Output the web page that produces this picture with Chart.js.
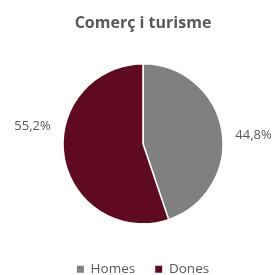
<!DOCTYPE html>
<html>
<head>
<meta charset="utf-8">
<script src="https://cdn.jsdelivr.net/npm/chart.js@4/dist/chart.umd.min.js"></script>
<style>
  html, body { margin: 0; padding: 0; background: #fff; }
  #wrap { width: 277px; height: 275px; }
</style>
</head>
<body>
<div id="wrap"><canvas id="chart"></canvas></div>
<script>
const chartTitle = 'Comerç i turisme';
const categories = ['Homes', 'Dones'];
const values = [44.8, 55.2];
const colors = ['#808080', '#600a22'];

// etiquetes de percentatge fora del pastís, a banda i banda
const outsideLabels = {
    id: 'outsideLabels',
    afterDatasetsDraw(chart) {
        const ctx = chart.ctx;
        const meta = chart.getDatasetMeta(0);
        ctx.save();
        ctx.font = '13px "Open Sans"';
        ctx.fillStyle = '#595959';
        ctx.textAlign = 'center';
        ctx.textBaseline = 'middle';
        meta.data.forEach((arc, i) => {
            const p = arc.getProps(['x', 'y', 'startAngle', 'endAngle', 'outerRadius'], true);
            const mid = (p.startAngle + p.endAngle) / 2;
            const r = p.outerRadius + 32;
            const txt = values[i].toFixed(1).replace('.', ',') + '%';
            ctx.fillText(txt, p.x + Math.cos(mid) * r, p.y - 13 + Math.cos(mid) * 4.5);
        });
        ctx.restore();
    }
};

new Chart(document.getElementById('chart'), {
    type: 'pie',
    data: {
        labels: categories,
        datasets: [{
            data: values,
            backgroundColor: colors,
            borderColor: '#fff',
            borderWidth: 1.5,
            radius: 80
        }]
    },
    options: {
        responsive: true,
        maintainAspectRatio: false,
        animation: false,
        layout: { padding: { left: 9, right: 0, bottom: -11 } },
        plugins: {
            title: {
                display: true,
                text: chartTitle,
                color: '#595959',
                font: { family: 'Open Sans', size: 16, weight: 'bold' },
                padding: { top: 14, bottom: 12 }
            },
            legend: {
                position: 'bottom',
                labels: {
                    color: '#595959',
                    font: { family: 'Open Sans', size: 13.5 },
                    boxWidth: 7,
                    boxHeight: 7,
                    padding: 20,
                    generateLabels(chart) {
                        const items = Chart.overrides.pie.plugins.legend.labels.generateLabels(chart);
                        items.forEach(it => { it.lineWidth = 0; });
                        return items;
                    }
                }
            },
            tooltip: { enabled: false }
        }
    },
    plugins: [outsideLabels]
});
</script>
</body>
</html>
